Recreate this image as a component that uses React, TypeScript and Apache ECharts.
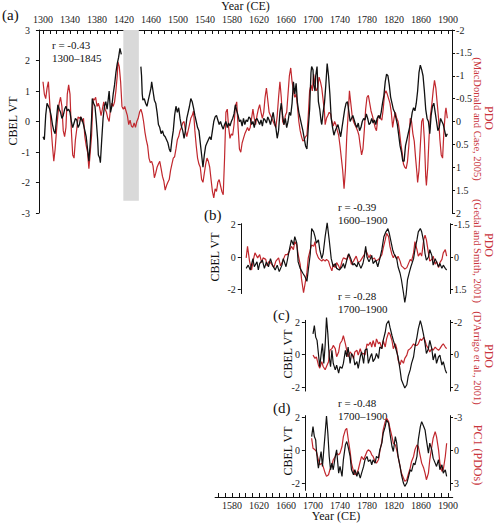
import React, { useEffect, useRef } from 'react';
import * as echarts from 'echarts';

// ---------- data ----------
const TOP_YEAR_LABELS = [1300, 1340, 1380, 1420, 1460, 1500, 1540, 1580, 1620, 1660, 1700, 1740, 1780, 1820, 1860, 1900];
const TOP_YEAR_TICKS = [1300,1310,1320,1330,1340,1350,1360,1370,1380,1390,1400,1410,1420,1430,1440,1450,1460,1470,1480,1490,1500,1510,1520,1530,1540,1550,1560,1570,1580,1590,1600,1610,1620,1630,1640,1650,1660,1670,1680,1690,1700,1710,1720,1730,1740,1750,1760,1770,1780,1790,1800,1810,1820,1830,1840,1850,1860,1870,1880,1890,1900];
const BOTTOM_YEAR_LABELS = [1580, 1620, 1660, 1700, 1740, 1780, 1820, 1860, 1900];
const BOTTOM_YEAR_TICKS = [1560,1570,1580,1590,1600,1610,1620,1630,1640,1650,1660,1670,1680,1690,1700,1710,1720,1730,1740,1750,1760,1770,1780,1790,1800,1810,1820,1830,1840,1850,1860,1870,1880,1890,1900];
const EROSION = [1419, 1442];

// Panel (a) CBEL VT (two segments around the erosion gap)
const CBEL_A1 = [[1300,-0.5],[1302,-0.6],[1304,0.2],[1306,0.6],[1308,0.5],[1310,0.4],[1312,0.2],[1314,-0.1],[1316,-0.3],[1318,-0.4],[1320,0.1],[1322,0.55],[1324,0.4],[1326,0.3],[1328,0.1],[1330,0.2],[1332,0.4],[1334,0.5],[1336,0.35],[1338,0.4],[1340,0.3],[1342,0.0],[1344,-0.2],[1346,-0.05],[1348,0.1],[1350,0.05],[1352,-0.2],[1354,-0.1],[1356,0.15],[1358,0.05],[1360,-0.1],[1362,-0.3],[1364,-0.5],[1366,-0.9],[1368,-1.3],[1370,-0.7],[1372,0.1],[1373,0.75],[1375,0.6],[1377,0.5],[1379,0.0],[1381,-0.6],[1382,-1.1],[1384,-1.2],[1385,-1.35],[1387,-0.6],[1389,0.1],[1391,0.5],[1393,0.65],[1395,0.4],[1397,0.8],[1398,1.0],[1400,0.3],[1402,0.5],[1404,0.9],[1406,1.2],[1408,1.6],[1410,1.9],[1412,2.1],[1414,2.4],[1416,2.2]];
const CBEL_A2 = [[1445,1.8],[1446,1.5],[1447,0.9],[1448,0.7],[1450,0.75],[1452,0.6],[1454,0.5],[1456,0.7],[1458,0.9],[1460,1.1],[1461,1.3],[1463,1.0],[1465,0.7],[1467,0.6],[1469,0.3],[1471,-0.1],[1473,-0.2],[1475,-0.4],[1477,-0.3],[1479,-0.45],[1481,-0.5],[1483,-0.6],[1485,-0.7],[1487,-0.9],[1489,-1.0],[1491,-0.6],[1493,-0.3],[1495,0.2],[1497,0.5],[1499,0.3],[1501,0.45],[1503,0.1],[1505,-0.15],[1507,-0.3],[1509,-0.55],[1511,-0.3],[1513,0.1],[1515,0.3],[1517,0.5],[1519,0.75],[1521,0.65],[1523,0.45],[1525,0.2],[1527,0.0],[1529,-0.2],[1531,-0.3],[1533,-0.7],[1535,-1.1],[1537,-1.5],[1539,-1.1],[1541,-0.8],[1543,-0.7],[1545,-0.6],[1547,-0.5],[1549,-0.6],[1551,-0.3],[1553,0.0],[1555,0.15],[1557,0.2],[1559,0.05],[1561,-0.1],[1563,0.0],[1565,-0.15],[1567,-0.25],[1569,-0.1],[1571,0.0],[1573,-0.2],[1575,-0.05],[1577,-0.15],[1579,0.0],[1581,0.1],[1583,0.25],[1585,0.55],[1587,0.35],[1589,0.2],[1591,0.0],[1593,0.05],[1595,-0.15],[1597,0.1],[1599,-0.1],[1601,0.05],[1603,0.0],[1605,0.15],[1607,0.1],[1609,-0.1],[1611,0.0],[1613,-0.2],[1615,0.05],[1617,0.1],[1619,0.0],[1621,-0.1],[1623,0.05],[1625,-0.15],[1627,0.1],[1629,0.05],[1631,-0.05],[1633,0.15],[1635,0.05],[1637,-0.1],[1639,0.1],[1641,0.3],[1643,0.0],[1645,-0.2],[1647,-0.55],[1649,-0.3],[1651,0.3],[1653,0.6],[1655,0.2],[1657,-0.1],[1659,0.1],[1661,-0.2],[1663,0.0],[1665,0.3],[1667,0.2],[1669,0.6],[1671,1.3],[1673,0.9],[1675,1.25],[1677,0.6],[1679,0.3],[1681,0.1],[1683,-0.1],[1685,-0.3],[1687,-0.55],[1689,-0.8],[1691,-0.9],[1693,-0.2],[1695,0.4],[1697,1.6],[1698,1.8],[1700,1.7],[1701,1.2],[1703,1.0],[1704,1.5],[1706,1.8],[1708,0.65],[1710,0.4],[1712,0.0],[1713,-0.1],[1715,0.3],[1717,0.6],[1719,1.2],[1721,1.9],[1723,1.5],[1725,0.9],[1727,0.1],[1729,-0.2],[1731,-0.45],[1733,-0.3],[1735,-0.2],[1737,-0.1],[1739,-0.3],[1741,-0.5],[1743,-0.2],[1745,0.1],[1747,0.4],[1749,0.6],[1751,0.65],[1753,0.35],[1755,0.0],[1757,0.1],[1759,0.2],[1761,0.05],[1763,-0.1],[1765,-0.2],[1767,-0.05],[1769,-0.3],[1771,-0.2],[1773,0.0],[1775,0.1],[1777,0.05],[1779,0.25],[1781,0.1],[1783,-0.1],[1785,-0.05],[1787,0.1],[1789,-0.05],[1791,0.05],[1793,-0.1],[1795,0.1],[1797,0.2],[1799,0.1],[1801,0.3],[1803,0.6],[1805,0.85],[1807,1.3],[1809,1.55],[1811,1.5],[1813,1.2],[1815,0.8],[1817,0.6],[1819,0.4],[1821,0.3],[1823,0.1],[1825,-0.1],[1827,-0.45],[1829,-0.8],[1831,-1.0],[1833,-1.3],[1835,-1.3],[1837,-0.8],[1839,-0.6],[1841,-0.4],[1843,-0.2],[1845,0.0],[1847,0.3],[1849,0.45],[1851,0.35],[1853,0.6],[1855,1.0],[1857,1.6],[1859,1.85],[1861,1.7],[1863,1.5],[1865,1.0],[1867,0.4],[1869,0.1],[1871,0.0],[1873,-0.4],[1875,0.2],[1877,0.5],[1879,0.6],[1881,0.3],[1883,0.0],[1885,-0.3],[1887,-0.2],[1889,0.1],[1891,0.0],[1893,-0.1],[1895,-0.3],[1897,-0.5],[1899,-0.4]];

// Panel (a) PDO (MacDonald and Case, 2005)
const PDO_A = [[1300,-0.87],[1302,-0.6],[1304,-0.5],[1306,-0.73],[1308,-0.87],[1310,-0.4],[1312,0.13],[1314,0.53],[1316,0.87],[1318,0.6],[1320,0.2],[1322,-0.13],[1324,-0.4],[1326,-0.53],[1328,-0.33],[1330,0.2],[1332,0.33],[1334,0.13],[1336,-0.6],[1338,-0.8],[1340,-0.6],[1342,0.2],[1344,0.73],[1346,0.8],[1348,0.4],[1350,0.17],[1352,-0.1],[1354,-0.07],[1356,-0.1],[1358,0],[1360,-0.07],[1362,0.33],[1364,0.53],[1366,0.67],[1368,1.03],[1370,0.67],[1372,0.3],[1374,-0.5],[1376,-0.47],[1378,-0.53],[1380,-0.33],[1382,-0.4],[1384,-0.3],[1386,-0.13],[1388,-0.27],[1390,-0.43],[1392,-0.27],[1394,-0.2],[1396,-0.07],[1398,0],[1400,-0.27],[1402,-0.4],[1404,-0.33],[1406,-0.43],[1408,-0.67],[1410,-1.0],[1411,-1.3],[1413,-1.2],[1415,-0.87],[1417,-0.33],[1419,-0.27],[1421,-0.33],[1423,-0.23],[1425,-0.13],[1427,0.07],[1429,-0.03],[1431,0.1],[1433,0.13],[1435,0.03],[1437,0.13],[1439,0],[1441,-0.07],[1443,-0.2],[1445,-0.27],[1447,-0.17],[1449,0],[1451,0.23],[1453,0.4],[1455,0.53],[1457,0.8],[1459,0.9],[1461,0.87],[1463,0.97],[1465,1.23],[1467,1.13],[1469,1.0],[1471,0.93],[1473,0.87],[1475,1.03],[1477,1.2],[1479,1.3],[1481,1.5],[1483,1.4],[1485,1.33],[1487,1.27],[1489,1.07],[1491,0.93],[1493,0.8],[1495,0.77],[1497,0.6],[1499,0.4],[1501,0.33],[1503,0.2],[1505,0.13],[1507,0.03],[1509,0],[1511,0.2],[1513,0.33],[1515,0.2],[1517,0.07],[1519,-0.07],[1521,-0.13],[1523,-0.23],[1525,0.2],[1527,0.53],[1529,0.8],[1531,0.93],[1533,1.0],[1535,1.27],[1537,1.33],[1539,1.13],[1541,0.93],[1543,0.8],[1545,0.87],[1547,1.0],[1549,1.27],[1551,1.53],[1553,1.67],[1555,1.47],[1557,1.53],[1559,1.33],[1561,1.27],[1563,1.4],[1565,1.53],[1567,1.6],[1569,0.8],[1571,-0.2],[1573,-0.27],[1575,0.13],[1577,0.37],[1579,0.27],[1581,0.3],[1583,0.07],[1585,-0.33],[1587,-0.43],[1589,0.13],[1591,0.6],[1593,0.67],[1595,0.47],[1597,0.37],[1599,0.27],[1601,0.2],[1603,0.13],[1605,0.2],[1607,0.13],[1609,-0.07],[1611,-0.27],[1613,-0.07],[1615,0.07],[1617,-0.13],[1619,-0.27],[1621,-0.37],[1623,-0.2],[1625,-0.07],[1627,-0.2],[1629,-0.53],[1631,-0.73],[1633,-0.47],[1635,-0.2],[1637,-0.13],[1639,-0.07],[1641,0],[1643,0.07],[1645,0.13],[1647,-0.13],[1649,-0.53],[1651,-0.87],[1653,-0.53],[1655,0],[1657,0.07],[1659,-0.13],[1661,-0.2],[1663,-0.6],[1665,-1.0],[1667,-1.17],[1669,-0.87],[1671,-0.67],[1673,-0.53],[1675,-0.6],[1677,-0.33],[1679,0],[1681,0.2],[1683,0.33],[1685,0.43],[1687,0.4],[1689,0.33],[1691,0.3],[1693,-0.13],[1695,-0.67],[1697,-0.8],[1699,-0.67],[1701,-1.03],[1703,-0.8],[1705,-0.67],[1707,-0.73],[1709,-0.97],[1711,-0.87],[1713,-0.73],[1715,-0.47],[1717,-0.2],[1718,0.07],[1720,-0.07],[1722,-0.13],[1724,-0.2],[1726,-0.17],[1728,0],[1730,0.1],[1732,0],[1734,0.07],[1736,0.2],[1738,0.3],[1740,0.53],[1742,0.8],[1744,1.07],[1746,1.47],[1748,1.07],[1750,0.33],[1752,-0.13],[1754,-0.67],[1756,-0.4],[1758,-0.13],[1760,0],[1762,0.07],[1764,0.13],[1766,0.2],[1768,0.3],[1770,0.53],[1772,0.73],[1774,0.6],[1776,0.2],[1778,-0.27],[1780,-0.53],[1782,-0.57],[1784,-0.4],[1786,-0.23],[1788,-0.13],[1790,0],[1792,0.13],[1794,0.2],[1796,-0.07],[1798,-0.13],[1800,-0.07],[1802,-0.03],[1804,-0.27],[1806,-0.6],[1808,-0.67],[1810,-0.6],[1812,-0.5],[1814,-0.4],[1816,-0.2],[1818,0.13],[1820,-0.07],[1822,-0.2],[1824,-0.07],[1826,0],[1828,0.2],[1830,0.47],[1832,0.67],[1834,0.93],[1836,1.0],[1838,1.03],[1840,0.87],[1842,0.53],[1844,-0.07],[1846,0],[1848,0.27],[1850,0.43],[1852,0.8],[1854,1.13],[1855,1.33],[1857,1.07],[1859,0.53],[1861,0],[1863,-0.07],[1865,0.4],[1867,1.2],[1868,1.4],[1870,1.0],[1872,0.33],[1874,-0.13],[1876,-0.37],[1878,-0.67],[1880,-0.9],[1882,-0.73],[1884,-0.4],[1886,-0.07],[1888,0.4],[1890,0.73],[1892,0.8],[1894,0.2],[1896,-0.2],[1897,-0.3],[1899,-0.07]];

// Panel (b)
const CBEL_B = [[1601,-0.7],[1604,-0.5],[1607,-0.8],[1611,-0.1],[1613,-0.6],[1617,-0.3],[1619,-0.8],[1621,-0.4],[1625,-0.2],[1628,-0.7],[1631,-0.3],[1634,-0.6],[1637,-0.1],[1640,-0.5],[1644,-0.8],[1647,-0.5],[1650,-0.9],[1654,-0.5],[1656,-0.1],[1660,-0.6],[1662,-0.2],[1665,0.45],[1668,1.05],[1671,0.75],[1673,1.25],[1676,0.85],[1678,-0.3],[1681,-0.7],[1685,-1.0],[1688,-1.2],[1691,-1.5],[1693,-0.8],[1696,0.2],[1698,1.75],[1701,1.55],[1703,1.25],[1705,0.85],[1708,1.05],[1710,0.45],[1713,-0.1],[1715,0.2],[1718,1.25],[1721,2.1],[1724,1.05],[1727,-0.1],[1730,-0.6],[1733,-0.4],[1735,-0.7],[1739,-0.8],[1743,-0.6],[1745,-0.4],[1747,-0.7],[1750,-0.2],[1753,0.2],[1756,-0.1],[1759,-0.5],[1761,-0.4],[1765,-0.6],[1767,-0.3],[1771,-0.7],[1774,-0.4],[1776,0.0],[1778,0.65],[1780,0.0],[1783,-0.3],[1787,0.1],[1789,-0.4],[1793,-0.2],[1796,-0.6],[1799,-0.1],[1802,0.45],[1805,1.25],[1808,1.55],[1811,1.75],[1813,1.45],[1816,0.85],[1818,0.45],[1820,0.2],[1824,-0.1],[1826,-0.6],[1829,-1.0],[1831,-1.4],[1834,-2.2],[1836,-2.8],[1838,-2.3],[1840,-1.4],[1843,-0.9],[1845,-0.6],[1849,-0.1],[1851,0.45],[1854,1.05],[1856,1.55],[1859,1.75],[1861,1.55],[1864,0.95],[1866,0.2],[1868,-0.2],[1871,0.0],[1873,0.45],[1876,0.1],[1878,-0.5],[1881,-0.1],[1883,-0.3],[1886,-0.6],[1888,-0.4],[1891,-0.7],[1893,-0.5],[1896,-0.7],[1898,-0.8]];
const PDO_B = [[1601,0.04],[1603,-0.49],[1606,0.19],[1609,0.6],[1612,0.08],[1614,-0.19],[1618,0.04],[1621,-0.11],[1624,0.26],[1626,0.04],[1630,0.11],[1632,0.41],[1635,0.19],[1639,0.34],[1642,0.49],[1645,0.19],[1649,0.04],[1652,0.41],[1655,0.19],[1659,-0.11],[1662,-0.11],[1665,-0.26],[1668,-0.49],[1671,-0.34],[1673,-0.71],[1676,-0.56],[1678,-0.11],[1681,0.34],[1683,1.01],[1686,1.65],[1688,1.28],[1691,0.71],[1693,0.04],[1696,-0.34],[1698,-0.56],[1701,-0.49],[1703,-0.71],[1705,-0.19],[1708,0.04],[1710,0.11],[1713,0.19],[1715,0.11],[1718,0.19],[1720,0.11],[1723,0.19],[1725,0.41],[1728,0.64],[1730,0.34],[1733,0.49],[1735,0.26],[1738,0.41],[1740,0.56],[1743,0.19],[1745,0.04],[1750,0.11],[1752,-0.11],[1755,0.11],[1757,0.34],[1760,0.19],[1764,-0.04],[1767,0.26],[1770,0.19],[1773,0.04],[1776,-0.11],[1778,-0.34],[1780,-0.19],[1783,0.04],[1785,-0.11],[1788,0.11],[1791,0.04],[1793,0.19],[1797,0.11],[1799,0.04],[1802,-0.11],[1804,-0.41],[1807,-0.79],[1809,-1.09],[1812,-0.94],[1814,-0.49],[1817,-0.11],[1819,0.04],[1821,-0.11],[1824,0.11],[1826,-0.04],[1829,0.19],[1831,0.41],[1834,0.49],[1836,0.56],[1839,0.49],[1841,0.34],[1844,0.11],[1846,0.19],[1849,-0.19],[1851,-0.71],[1854,-0.34],[1856,-0.04],[1859,-0.19],[1861,-0.04],[1864,-0.79],[1866,-1.01],[1868,-0.79],[1871,-0.19],[1873,0.19],[1876,0.11],[1878,-0.04],[1881,0.34],[1883,0.19],[1886,0.49],[1888,0.26],[1891,0.11],[1893,-0.19],[1896,-0.34],[1898,-0.04]];

// Panel (c)
const CBEL_C = [[1700,1.27],[1702,1.78],[1704,1.07],[1706,0.87],[1708,0.06],[1710,-0.75],[1713,0.36],[1714,0.67],[1716,-0.55],[1718,0.57],[1720,2.28],[1722,1.27],[1724,-0.14],[1726,-0.75],[1728,0.26],[1730,-0.55],[1733,-0.95],[1735,-0.65],[1738,-1.15],[1740,-0.75],[1743,-0.85],[1745,-0.55],[1748,0.26],[1750,-0.14],[1752,0.46],[1755,-0.55],[1757,0.06],[1760,-0.14],[1762,-0.65],[1765,-0.44],[1767,-0.85],[1770,-0.14],[1772,0.16],[1775,-0.55],[1777,0.26],[1780,0.36],[1782,-0.55],[1785,-0.14],[1787,0.06],[1789,-0.44],[1792,-0.24],[1794,0.06],[1797,-0.24],[1799,0.46],[1802,0.36],[1804,0.87],[1807,1.37],[1809,1.88],[1812,2.08],[1814,1.68],[1817,1.17],[1819,0.87],[1822,0.46],[1824,0.16],[1826,-0.14],[1829,-0.95],[1831,-1.56],[1834,-1.86],[1836,-2.06],[1839,-1.86],[1841,-1.35],[1844,-0.95],[1846,-0.55],[1849,-0.14],[1851,0.46],[1854,1.07],[1856,1.58],[1859,2.08],[1861,1.78],[1864,1.17],[1866,0.67],[1868,0.06],[1871,0.36],[1873,0.87],[1876,0.36],[1878,-0.34],[1881,0.06],[1883,-0.55],[1886,-0.14],[1888,-0.04],[1891,-0.65],[1893,-0.44],[1896,-0.95],[1898,-1.15]];
const PDO_C = [[1700,0.04],[1703,0.24],[1705,0.14],[1708,0.64],[1710,0.84],[1713,0.44],[1715,0.74],[1718,0.94],[1720,0.74],[1723,0.44],[1725,-0.26],[1728,-0.36],[1730,-0.56],[1733,-0.36],[1735,0.14],[1738,-0.16],[1740,-0.66],[1743,-0.86],[1745,-1.16],[1748,-0.66],[1750,-0.26],[1752,0.14],[1755,-0.16],[1757,-0.06],[1760,0.24],[1762,-0.16],[1765,-0.26],[1767,0.04],[1770,-0.36],[1772,-0.06],[1775,-0.06],[1777,0.04],[1780,-0.66],[1782,-0.56],[1785,-0.76],[1787,-0.46],[1789,-0.86],[1792,-0.46],[1794,-0.96],[1797,-0.66],[1799,-0.76],[1802,-0.36],[1804,-0.86],[1807,-0.46],[1809,-0.96],[1812,-1.36],[1814,-1.26],[1817,-0.86],[1819,-0.36],[1822,-0.66],[1824,-0.36],[1826,0.34],[1829,0.64],[1831,0.34],[1834,0.54],[1836,0.24],[1839,0.04],[1841,-0.26],[1844,-0.36],[1846,-0.46],[1849,-0.66],[1851,-0.56],[1854,-0.56],[1856,-0.66],[1859,-0.96],[1861,-0.86],[1864,-1.06],[1866,-0.86],[1868,-0.56],[1871,-0.36],[1873,-0.16],[1876,-0.36],[1878,-0.26],[1881,-0.46],[1883,-0.36],[1886,-0.26],[1888,-0.36],[1891,-0.56],[1893,-0.66],[1896,-0.46],[1898,-0.36]];

// Panel (d)
const CBEL_D = [[1698,0.84],[1700,1.44],[1702,0.84],[1704,0.64],[1705,0.04],[1707,-0.76],[1708,-1.06],[1710,-0.56],[1712,-0.06],[1714,-0.96],[1716,0.04],[1718,1.04],[1720,2.08],[1722,1.04],[1724,-0.36],[1726,-1.16],[1728,-0.76],[1730,-1.16],[1733,-0.36],[1735,0.04],[1738,-1.36],[1740,-0.96],[1743,-1.56],[1745,-0.56],[1748,0.34],[1750,0.54],[1752,0.24],[1755,-0.36],[1757,-1.16],[1760,-1.46],[1762,-1.16],[1765,-1.56],[1767,-1.26],[1770,-1.66],[1772,-1.36],[1775,-0.96],[1777,-0.56],[1780,-0.36],[1782,-0.66],[1785,-0.56],[1787,-0.86],[1789,-0.56],[1792,-0.76],[1794,-0.36],[1797,-0.46],[1799,0.04],[1802,0.44],[1804,1.04],[1807,1.44],[1809,1.84],[1812,1.64],[1814,1.04],[1817,0.24],[1819,-0.06],[1822,0.84],[1824,0.44],[1826,-0.36],[1829,-0.96],[1831,-1.46],[1834,-1.96],[1836,-2.16],[1839,-1.96],[1841,-1.66],[1844,-1.16],[1846,-1.26],[1849,-0.76],[1851,-0.86],[1854,-0.36],[1856,0.64],[1859,1.44],[1861,1.74],[1864,1.44],[1866,1.24],[1868,0.64],[1871,-0.16],[1873,0.44],[1876,0.04],[1878,-0.46],[1881,-0.76],[1883,-0.96],[1886,-0.56],[1888,-1.16],[1891,-0.86],[1893,-1.36],[1896,-1.16],[1898,-1.56]];
const PC1_D = [[1698,-1.11],[1700,-0.21],[1703,-0.06],[1705,0.09],[1708,0.84],[1710,1.29],[1713,1.14],[1715,1.44],[1718,2.04],[1720,2.34],[1723,2.19],[1725,1.74],[1728,1.29],[1730,0.84],[1733,0.54],[1735,0.24],[1738,0.39],[1740,0.24],[1743,-0.36],[1745,-1.26],[1748,-1.86],[1750,-2.01],[1752,-1.11],[1755,0.09],[1757,1.14],[1760,1.89],[1762,2.19],[1765,2.04],[1767,1.74],[1770,0.99],[1772,0.54],[1775,0.84],[1777,0.54],[1780,0.09],[1782,-0.06],[1785,0.09],[1787,0.39],[1789,0.54],[1792,0.99],[1794,1.14],[1797,0.84],[1799,0.09],[1802,-0.81],[1804,-1.86],[1807,-2.61],[1809,-2.91],[1812,-2.61],[1814,-2.01],[1817,-1.26],[1819,-0.66],[1822,-0.51],[1824,-0.06],[1826,0.54],[1829,1.44],[1831,2.04],[1834,2.49],[1836,2.79],[1839,2.64],[1841,2.19],[1844,1.59],[1846,0.99],[1849,0.54],[1851,-0.06],[1854,-0.51],[1856,-0.36],[1859,0.54],[1861,1.14],[1864,1.59],[1866,2.04],[1868,2.64],[1871,2.04],[1873,0.84],[1876,-0.36],[1878,-1.11],[1881,-1.71],[1883,-1.26],[1886,-0.06],[1888,1.14],[1891,1.89],[1893,1.74],[1896,0.54],[1898,-0.66]];

// ---------- layout / style ----------
const W = 495;
const H = 523;
const X0 = 43;      // pixel of year 1300
const PPY = 0.675;  // pixels per year
const px = (yr: number) => X0 + (yr - 1300) * PPY;
const FONT = 'Liberation Serif, Times New Roman, serif';
const RED = '#c1272d';
const RED_TXT = '#c9353d';
const BLACK = '#111111';

const axisLine = { show: true, onZero: false, lineStyle: { color: '#111', width: 1 } };
const lbl = { fontSize: 10, color: '#222', fontFamily: FONT, formatter: (v: number) => String(v) };

function hiddenX(grid: number, min: number, max: number) {
  return { type: 'value', gridIndex: grid, min, max, show: false, splitLine: { show: false } };
}
function yLeft(grid: number, min: number, max: number, extra: any = {}) {
  return {
    type: 'value', gridIndex: grid, min, max, position: 'left',
    axisLine, axisTick: { show: true, length: 3, lineStyle: { color: '#111' }, ...(extra.tick || {}) },
    axisLabel: { ...lbl, margin: 5, ...(extra.label || {}) },
    splitLine: { show: false }, ...(extra.axis || {}),
  };
}
function yRight(grid: number, min: number, max: number, extra: any = {}) {
  return {
    type: 'value', gridIndex: grid, min, max, position: 'right', inverse: true,
    axisLine, axisTick: { show: true, length: 3, lineStyle: { color: '#111' }, ...(extra.tick || {}) },
    axisLabel: { ...lbl, margin: 4, ...(extra.label || {}) },
    splitLine: { show: false }, ...(extra.axis || {}),
  };
}
function line(data: any, xi: number, yi: number, color: string, width: number, extra: any = {}) {
  return {
    type: 'line', data, xAxisIndex: xi, yAxisIndex: yi, showSymbol: false, symbol: 'none',
    clip: false, lineStyle: { color, width }, silent: true, ...extra,
  };
}
function txt(x: number, y: number, text: string, o: any = {}) {
  return {
    type: 'text', x, y, rotation: o.rotation || 0, silent: true,
    style: {
      text, fill: o.fill || '#111', fontSize: o.fontSize || 11, fontFamily: FONT,
      align: o.align || 'center', verticalAlign: 'middle',
    },
  };
}

const gridB = { top: 257 - 2.05 * 16.25, height: 4.3 * 16.25 };
const gridC = { top: 354.5 - 2.1 * 16.25, height: 4.35 * 16.25 };
const gridD = { top: 450.5 - 2.1 * 16.6, height: 4.5 * 16.6 };

const option: any = {
  animation: false,
  textStyle: { fontFamily: FONT },
  grid: [
    { left: px(1294), right: W - px(1906), top: 30, height: 183 },
    { left: px(1593), right: W - px(1903), top: gridB.top, height: gridB.height },
    { left: px(1688), right: W - px(1903), top: gridC.top, height: gridC.height },
    { left: px(1688), right: W - px(1903), top: gridD.top, height: gridD.height },
    { left: px(1555), right: W - px(1907), top: 496, height: 1 },
  ],
  xAxis: [
    {
      type: 'value', gridIndex: 0, position: 'top', min: 1294, max: 1906,
      axisLine, axisTick: { show: true, inside: true, length: 4, customValues: TOP_YEAR_TICKS, lineStyle: { color: '#111' } },
      axisLabel: { ...lbl, margin: 6, customValues: TOP_YEAR_LABELS },
      splitLine: { show: false },
    },
    hiddenX(1, 1593, 1903),
    hiddenX(2, 1688, 1903),
    hiddenX(3, 1688, 1903),
    {
      type: 'value', gridIndex: 4, position: 'bottom', min: 1555, max: 1907,
      axisLine, axisTick: { show: true, inside: true, length: 4, customValues: BOTTOM_YEAR_TICKS, lineStyle: { color: '#111' } },
      axisLabel: { ...lbl, margin: 3, customValues: BOTTOM_YEAR_LABELS },
      splitLine: { show: false },
    },
  ],
  yAxis: [
    yLeft(0, -3, 3, { axis: { interval: 1 }, label: { margin: 9 } }),
    yRight(0, -2, 2, { axis: { interval: 0.5 } }),
    yLeft(1, -2.25, 2.05, { label: { customValues: [-2, 0, 2] }, tick: { customValues: [-2, 0, 2] } }),
    yRight(1, -1.5375, 1.6875, { label: { customValues: [-1.5, 0, 1.5] }, tick: { customValues: [-1.5, 0, 1.5] } }),
    yLeft(2, -2.25, 2.1, { label: { customValues: [-2, 0, 2] }, tick: { customValues: [-2, 0, 2] } }),
    yRight(2, -2.1, 2.25, { label: { customValues: [-2, 0, 2] }, tick: { customValues: [-2, 0, 2] } }),
    yLeft(3, -2.4, 2.1, { label: { customValues: [-2, 0, 2] }, tick: { customValues: [-2, 0, 2] } }),
    yRight(3, -3.15, 3.6, { label: { customValues: [-3, 0, 3] }, tick: { customValues: [-3, 0, 3] } }),
    { type: 'value', gridIndex: 4, show: false, min: 0, max: 1 },
  ],
  series: [
    line(PDO_A, 0, 1, RED, 1.2, {
      markArea: {
        silent: true,
        itemStyle: { color: '#d9d9d9' },
        data: [[{ coord: [EROSION[0], -2] }, { coord: [EROSION[1], 1.73] }]],
      },
    }),
    line(CBEL_A1, 0, 0, BLACK, 1.3),
    line(CBEL_A2, 0, 0, BLACK, 1.3),
    line(PDO_B, 1, 3, RED, 1.2),
    line(CBEL_B, 1, 2, BLACK, 1.2),
    line(PDO_C, 2, 5, RED, 1.2),
    line(CBEL_C, 2, 4, BLACK, 1.2),
    line(PC1_D, 3, 7, RED, 1.2),
    line(CBEL_D, 3, 6, BLACK, 1.2),
    { type: 'line', data: [], xAxisIndex: 4, yAxisIndex: 8 },
  ],
  graphic: [
    txt(245.5, 6, 'Year (CE)', { fontSize: 12 }),
    txt(2, 15, '(a)', { fontSize: 15, align: 'left' }),
    txt(52, 45, 'r = -0.43', { align: 'left' }),
    txt(52, 58, '1300–1845', { align: 'left' }),
    txt(131, 160, 'Erosion', { rotation: Math.PI / 2, fill: '#444', fontSize: 11 }),
    txt(13, 121, 'CBEL VT', { rotation: Math.PI / 2, fontSize: 12 }),
    txt(489, 118, 'PDO', { rotation: -Math.PI / 2, fill: RED_TXT, fontSize: 12 }),
    txt(477.5, 119, '(MacDonald and Case, 2005)', { rotation: -Math.PI / 2, fill: RED_TXT, fontSize: 10.5 }),

    txt(204, 215, '(b)', { fontSize: 15, align: 'left' }),
    txt(338, 207, 'r = -0.39', { align: 'left' }),
    txt(338, 220, '1600–1900', { align: 'left' }),
    txt(215, 257, 'CBEL VT', { rotation: Math.PI / 2, fontSize: 12 }),
    txt(489, 245, 'PDO', { rotation: -Math.PI / 2, fill: RED_TXT, fontSize: 12 }),
    txt(477.5, 251, '(Gedal and Smith, 2001)', { rotation: -Math.PI / 2, fill: RED_TXT, fontSize: 10.5 }),

    txt(273, 315, '(c)', { fontSize: 15, align: 'left' }),
    txt(338, 296, 'r = -0.28', { align: 'left' }),
    txt(338, 309, '1700–1900', { align: 'left' }),
    txt(288, 354, 'CBEL VT', { rotation: Math.PI / 2, fontSize: 12 }),
    txt(489, 356, 'PDO', { rotation: -Math.PI / 2, fill: RED_TXT, fontSize: 12 }),
    txt(477.5, 358, "(D'Arrigo et al., 2001)", { rotation: -Math.PI / 2, fill: RED_TXT, fontSize: 10.5 }),

    txt(273, 408, '(d)', { fontSize: 15, align: 'left' }),
    txt(338, 403, 'r = -0.48', { align: 'left' }),
    txt(338, 416, '1700–1900', { align: 'left' }),
    txt(288, 451, 'CBEL VT', { rotation: Math.PI / 2, fontSize: 12 }),
    txt(478, 455, 'PC1 (PDOs)', { rotation: -Math.PI / 2, fill: RED_TXT, fontSize: 12 }),

    txt(336, 516, 'Year (CE)', { fontSize: 12 }),
  ],
};

export default function App() {
  const ref = useRef<HTMLDivElement>(null);
  useEffect(() => {
    if (!ref.current) return;
    const chart = echarts.init(ref.current, null, { renderer: 'svg' });
    chart.setOption(option);
    return () => chart.dispose();
  }, []);
  return (
    <div
      ref={ref}
      style={{ position: 'absolute', left: 0, top: 0, width: W, height: H, background: '#fff' }}
    />
  );
}
